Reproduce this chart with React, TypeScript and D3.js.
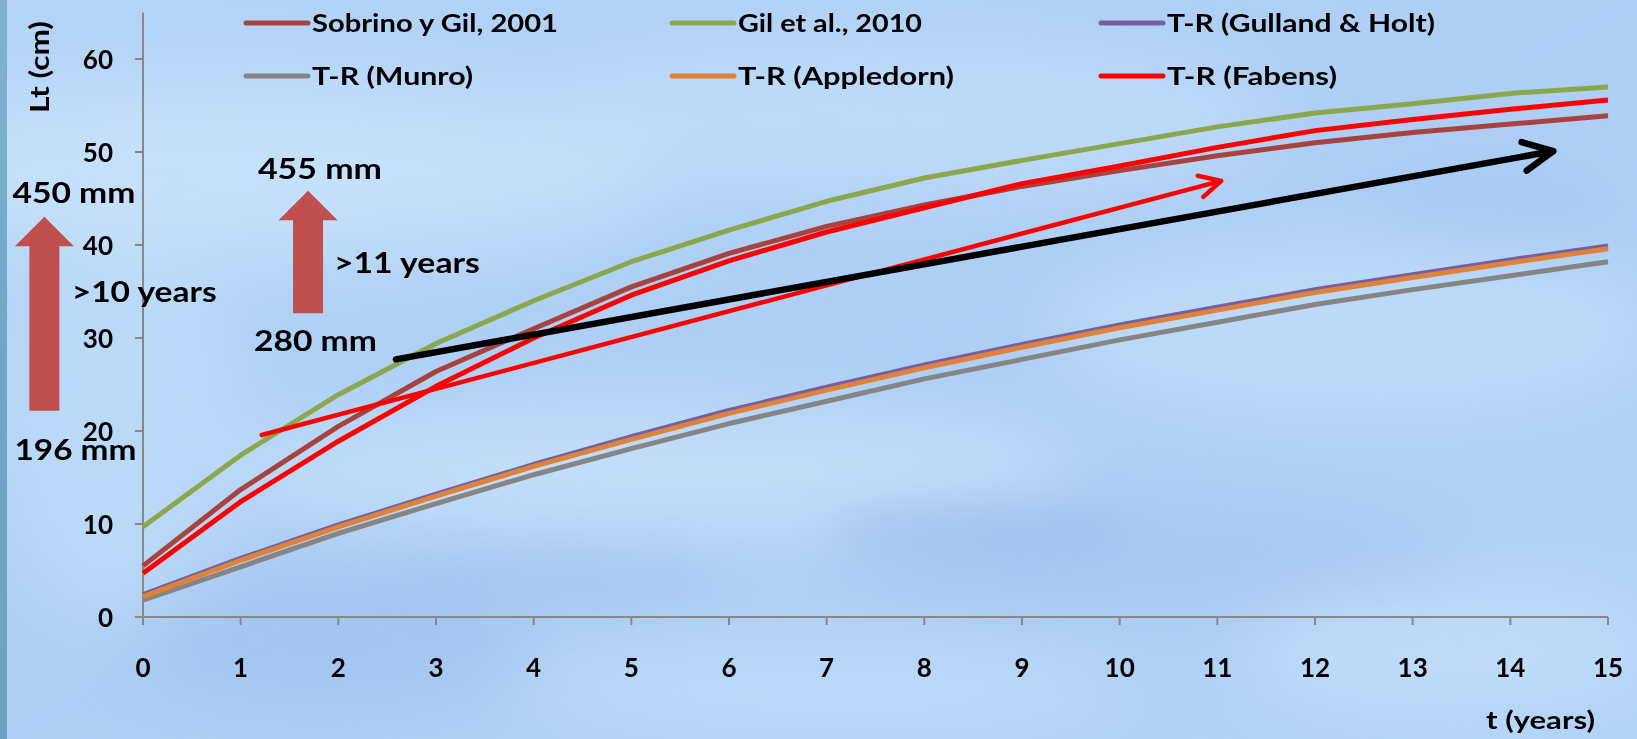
import React, { useEffect } from "react";
import * as d3 from "d3";

// ---------- data ----------
const years = [0, 1, 2, 3, 4, 5, 6, 7, 8, 9, 10, 11, 12, 13, 14, 15];
const yTicks = [0, 10, 20, 30, 40, 50, 60];

const sobrinoGil2001 = [5.5, 13.7, 20.5, 26.4, 31.0, 35.5, 39.1, 42.0, 44.3, 46.3, 48.0, 49.6, 51.0, 52.1, 53.0, 53.9];
const gilEtAl2010 = [9.7, 17.4, 23.9, 29.4, 34.0, 38.2, 41.6, 44.7, 47.2, 49.1, 50.9, 52.7, 54.2, 55.2, 56.3, 57.0];
const trGullandHolt = [2.4, 6.3, 9.9, 13.2, 16.4, 19.4, 22.2, 24.7, 27.1, 29.3, 31.4, 33.3, 35.2, 36.8, 38.4, 39.9];
const trMunro = [1.8, 5.4, 9.0, 12.2, 15.3, 18.1, 20.8, 23.2, 25.6, 27.7, 29.8, 31.7, 33.6, 35.2, 36.7, 38.2];
const trAppledorn = [2.2, 6.1, 9.7, 13.0, 16.2, 19.1, 21.9, 24.4, 26.8, 29.0, 31.1, 33.0, 34.9, 36.5, 38.1, 39.6];
const trFabens = [4.7, 12.4, 18.9, 24.8, 30.0, 34.6, 38.3, 41.4, 44.0, 46.6, 48.5, 50.5, 52.3, 53.5, 54.6, 55.6];

const seriesNames = ["Sobrino y Gil, 2001", "Gil et al., 2010", "T-R (Gulland & Holt)", "T-R (Munro)", "T-R (Appledorn)", "T-R (Fabens)"];
const seriesValues = [sobrinoGil2001, gilEtAl2010, trGullandHolt, trMunro, trAppledorn, trFabens];
const seriesColors = ["#A8423E", "#8AA84B", "#7460A0", "#858585", "#E0823A", "#FF0000"];

// legend layout: [column, row]
const legendSlots = [[0, 0], [1, 0], [2, 0], [0, 1], [1, 1], [2, 1]];
const legendTextWidths = [246, 184, 268, 161, 216, 170];

// annotation arrows (data units: t in years, value in cm)
const thinRedArrow = { t0: 1.215, v0: 19.57, t1: 11.04, v1: 46.9 };
const blackArrow = { t0: 2.59, v0: 27.7, t1: 14.44, v1: 50.1 };
const blockArrows = [
  { t: -1.01, base: 22.18, tip: 43.05 },
  { t: 1.69, base: 32.66, tip: 45.84 },
];
const annotationTexts = [
  { text: "450 mm", t: -1.337, v: 44.5, w: 123 },
  { text: ">10 years", t: -0.73, v: 33.86, w: 145 },
  { text: "196 mm", t: -1.316, v: 16.88, w: 122 },
  { text: "455 mm", t: 1.177, v: 47.06, w: 124 },
  { text: ">11 years", t: 1.955, v: 36.95, w: 146 },
  { text: "280 mm", t: 1.136, v: 28.6, w: 123 },
];

const W = 1637;
const H = 739;
const FONT = "Lato, 'Open Sans', 'DejaVu Sans', sans-serif";

export default function App() {
  useEffect(() => {
    document.body.style.margin = "0";
  }, []);

  const x = d3.scaleLinear().domain([0, 15]).range([143, 1608]);
  const y = d3.scaleLinear().domain([0, 65]).range([617, 12.5]);

  const line = d3
    .line<number>()
    .x((_, i) => x(years[i]))
    .y((d) => y(d));

  const chevron = (a: { t0: number; v0: number; t1: number; v1: number }, len: number, ang: number) => {
    const x0 = x(a.t0), y0 = y(a.v0), x1 = x(a.t1), y1 = y(a.v1);
    const th = Math.atan2(y1 - y0, x1 - x0) + Math.PI;
    const r = (ang * Math.PI) / 180;
    const p1 = [x1 + len * Math.cos(th + r), y1 + len * Math.sin(th + r)];
    const p2 = [x1 + len * Math.cos(th - r), y1 + len * Math.sin(th - r)];
    return `M${x0},${y0}L${x1},${y1}M${p1[0]},${p1[1]}L${x1},${y1}L${p2[0]},${p2[1]}`;
  };

  const blockPath = (b: { t: number; base: number; tip: number }) => {
    const cx = x(b.t), yb = y(b.base), yt = y(b.tip);
    const sw = 15, hw = 29.5, hl = 29.5;
    return `M${cx - sw},${yb}L${cx - sw},${yt + hl}L${cx - hw},${yt + hl}L${cx},${yt}L${cx + hw},${yt + hl}L${cx + sw},${yt + hl}L${cx + sw},${yb}Z`;
  };

  const legendColX = [246, 672, 1101];
  const legendRowY = [23, 76];

  return (
    <svg width={W} height={H} style={{ position: "absolute", left: 0, top: 0, display: "block" }} xmlns="http://www.w3.org/2000/svg">
      <defs>
        <filter id="blur1" x="-50%" y="-50%" width="200%" height="200%">
          <feGaussianBlur stdDeviation="35" />
        </filter>
        <filter id="blur2" x="-50%" y="-50%" width="200%" height="200%">
          <feGaussianBlur stdDeviation="18" />
        </filter>
        <linearGradient id="bg" x1="0" y1="0" x2="1" y2="1">
          <stop offset="0" stopColor="#B4D5F8" />
          <stop offset="0.5" stopColor="#AECEF5" />
          <stop offset="1" stopColor="#B2D3F7" />
        </linearGradient>
        <linearGradient id="strip" x1="0" y1="0" x2="0" y2="1">
          <stop offset="0" stopColor="#7FB3CF" />
          <stop offset="0.5" stopColor="#6FA6C6" />
          <stop offset="1" stopColor="#6BA3C2" />
        </linearGradient>
      </defs>

      {/* background texture */}
      <rect x={0} y={0} width={W} height={H} fill="url(#bg)" />
      <g filter="url(#blur1)">
        <ellipse cx={250} cy={170} rx={420} ry={90} fill="#C9E4FB" opacity={0.8} />
        <ellipse cx={900} cy={120} rx={380} ry={70} fill="#C4E0FA" opacity={0.7} />
        <ellipse cx={1350} cy={330} rx={300} ry={80} fill="#C6E2FA" opacity={0.6} />
        <ellipse cx={650} cy={470} rx={420} ry={60} fill="#CBE5FB" opacity={0.7} />
        <ellipse cx={330} cy={640} rx={200} ry={70} fill="#9DBFEE" opacity={0.6} />
        <ellipse cx={1150} cy={560} rx={320} ry={60} fill="#A3C3F0" opacity={0.6} />
        <ellipse cx={120} cy={420} rx={120} ry={200} fill="#C2DFFA" opacity={0.6} />
        <ellipse cx={1450} cy={650} rx={200} ry={60} fill="#C9E3FA" opacity={0.6} />
        <ellipse cx={820} cy={690} rx={300} ry={40} fill="#C6E1FA" opacity={0.6} />
      </g>
      <g filter="url(#blur2)">
        <ellipse cx={980} cy={530} rx={150} ry={30} fill="#99BAEC" opacity={0.45} />
        <ellipse cx={560} cy={580} rx={160} ry={30} fill="#A2C2EF" opacity={0.45} />
        <ellipse cx={1500} cy={200} rx={120} ry={40} fill="#A5C5F0" opacity={0.4} />
      </g>
      <rect x={0} y={0} width={7} height={H} fill="url(#strip)" />

      {/* axes */}
      <g stroke="#888888" strokeWidth={2} fill="none">
        <line x1={x(0)} y1={y(65)} x2={x(0)} y2={y(0)} />
        <line x1={x(0) - 8} y1={y(0)} x2={x(15)} y2={y(0)} />
        {yTicks.map((v) => (
          <line key={"yt" + v} x1={x(0) - 8} y1={y(v)} x2={x(0)} y2={y(v)} />
        ))}
        {years.map((t) => (
          <line key={"xt" + t} x1={x(t)} y1={y(0)} x2={x(t)} y2={y(0) + 8} />
        ))}
      </g>
      <g fontFamily={FONT} fontWeight={700} fontSize={26} fill="#000">
        {yTicks.map((v) => (
          <text key={"yl" + v} x={113} y={y(v) + 9.5} textAnchor="end">
            {v}
          </text>
        ))}
        {years.map((t) => (
          <text key={"xl" + t} x={x(t)} y={677} textAnchor="middle">
            {t}
          </text>
        ))}
      </g>
      <text
        transform={`translate(49,67) rotate(-90)`}
        textAnchor="middle"
        fontFamily={FONT}
        fontWeight={700}
        fontSize={26}
        textLength={92}
        lengthAdjust="spacingAndGlyphs"
      >
        Lt (cm)
      </text>
      <text x={1486} y={729} fontFamily={FONT} fontWeight={700} fontSize={25} textLength={109} lengthAdjust="spacingAndGlyphs">
        t (years)
      </text>

      {/* series */}
      {seriesValues.map((vals, i) => (
        <path key={"s" + i} d={line(vals) || ""} fill="none" stroke={seriesColors[i]} strokeWidth={5} strokeLinejoin="round" />
      ))}

      {/* annotation arrows */}
      <path d={chevron(thinRedArrow, 24, 27)} fill="none" stroke="#FF0000" strokeWidth={4.5} strokeLinecap="round" strokeLinejoin="round" />
      <path d={chevron(blackArrow, 33, 26)} fill="none" stroke="#000" strokeWidth={6.5} strokeLinecap="round" strokeLinejoin="round" />
      {blockArrows.map((b, i) => (
        <path key={"ba" + i} d={blockPath(b)} fill="#C0504D" />
      ))}

      {/* annotation texts */}
      <g fontFamily={FONT} fontWeight={700} fontSize={28} fill="#000">
        {annotationTexts.map((a, i) => (
          <text key={"at" + i} x={x(a.t)} y={y(a.v)} textLength={a.w} lengthAdjust="spacingAndGlyphs">
            {a.text}
          </text>
        ))}
      </g>

      {/* legend */}
      <g fontFamily={FONT} fontWeight={700} fontSize={24} fill="#000">
        {seriesNames.map((n, i) => {
          const [c, r] = legendSlots[i];
          const lx = legendColX[c];
          const ly = legendRowY[r];
          return (
            <g key={"lg" + i}>
              <line x1={lx} y1={ly} x2={lx + 62} y2={ly} stroke={seriesColors[i]} strokeWidth={5} strokeLinecap="round" />
              <text x={lx + 66} y={ly + 9} textLength={legendTextWidths[i]} lengthAdjust="spacingAndGlyphs">
                {n}
              </text>
            </g>
          );
        })}
      </g>
    </svg>
  );
}
